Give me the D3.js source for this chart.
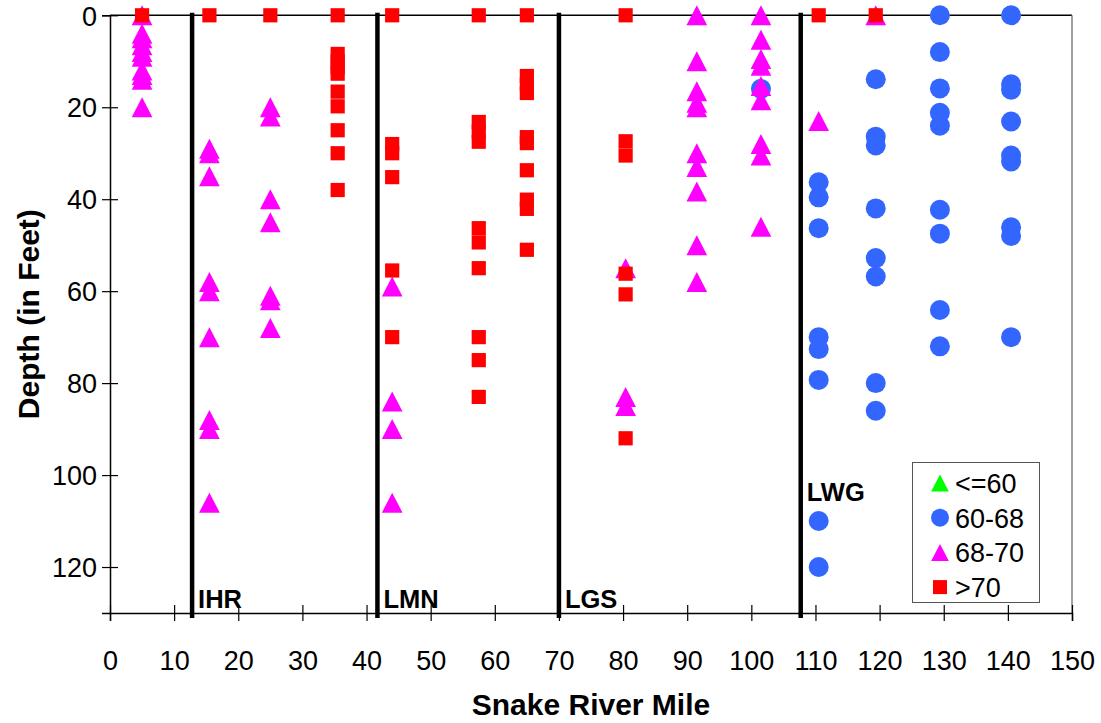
<!DOCTYPE html>
<html>
<head>
<meta charset="utf-8">
<script src="https://cdn.jsdelivr.net/npm/d3@7"></script>
<style>
  body { margin: 0; background: #fff; }
  svg { display: block; }
  text { font-family: "Liberation Sans", Arial, sans-serif; fill: #000; }
</style>
</head>
<body>
<svg id="chart" width="1101" height="723"></svg>
<script>
// Temperature classes (deg F) for the legend
const legendLabels = ["<=60", "60-68", "68-70", ">70"];

// Samples as [river mile, depth in feet], one array per temperature class
const tempUpTo60 = [];

const temp60to68 = [
  [101.5, 16],
  [110.5, 36.3], [110.5, 39.6], [110.5, 46.3], [110.5, 70], [110.5, 72.6], [110.5, 79.3], [110.5, 110], [110.5, 120],
  [119.4, 13.9], [119.4, 26.4], [119.4, 28.3], [119.4, 42], [119.4, 52.8], [119.4, 56.8], [119.4, 80], [119.4, 86],
  [129.4, 0], [129.4, 8], [129.4, 15.9], [129.4, 21.2], [129.4, 24], [129.4, 42.3], [129.4, 47.5], [129.4, 64.1], [129.4, 72],
  [140.5, 0], [140.5, 15], [140.5, 16.2], [140.5, 23.1], [140.5, 30.5], [140.5, 31.8], [140.5, 46.1], [140.5, 48], [140.5, 70]
];

const temp68to70 = [
  [5, 0], [5, 4], [5, 5], [5, 6.5], [5, 8], [5, 9], [5, 12], [5, 13], [5, 14], [5, 20],
  [15.5, 29], [15.5, 30], [15.5, 35], [15.5, 58], [15.5, 60], [15.5, 70], [15.5, 88], [15.5, 90], [15.5, 106],
  [25, 20], [25, 22], [25, 40], [25, 45], [25, 61], [25, 62], [25, 68],
  [44, 59], [44, 84], [44, 90], [44, 106],
  [80.4, 55], [80.4, 83], [80.4, 85],
  [91.5, 0], [91.5, 10], [91.5, 16.5], [91.5, 19], [91.5, 20], [91.5, 30], [91.5, 33], [91.5, 38.3], [91.5, 50], [91.5, 58],
  [101.5, 0], [101.5, 5.3], [101.5, 9.5], [101.5, 11], [101.5, 15.4], [101.5, 18.5], [101.5, 28], [101.5, 30.5], [101.5, 46],
  [110.5, 23],
  [119.4, 0]
];

const tempOver70 = [
  [5, 0], [15.5, 0], [25, 0],
  [35.5, 0], [35.5, 8.4], [35.5, 10], [35.5, 11.3], [35.5, 12.7], [35.5, 16.6], [35.5, 19.8], [35.5, 25], [35.5, 30], [35.5, 38],
  [44, 0], [44, 28], [44, 30], [44, 35.2], [44, 55.5], [44, 70],
  [57.5, 0], [57.5, 23.2], [57.5, 25.3], [57.5, 27.5], [57.5, 46.3], [57.5, 49.4], [57.5, 55], [57.5, 70], [57.5, 75], [57.5, 83],
  [65, 0], [65, 13.2], [65, 15], [65, 16.9], [65, 26.5], [65, 27.8], [65, 33.7], [65, 40.1], [65, 42.1], [65, 51],
  [80.4, 0], [80.4, 27.4], [80.4, 30.5], [80.4, 56.2], [80.4, 60.7], [80.4, 92],
  [110.5, 0], [119.4, 0]
];

// Dams along the river
const damNames = ["IHR", "LMN", "LGS", "LWG"];
const damMiles = [12.8, 41.7, 70, 107.7];

const xTicks = d3.range(0, 151, 10);
const yTicks = [0, 20, 40, 60, 80, 100, 120];

const svg = d3.select("#chart");
svg.append("rect").attr("width", 1101).attr("height", 723).attr("fill", "#fff");

const x = d3.scaleLinear().domain([0, 150]).range([110, 1072]);
const y = d3.scaleLinear().domain([0, 130]).range([15.3, 613]);

// Plot frame: top edge and right edge
svg.append("line").attr("x1", x(0)).attr("x2", x(150)).attr("y1", y(0)).attr("y2", y(0))
  .attr("stroke", "#000").attr("stroke-width", 1.5);
svg.append("line").attr("x1", x(150)).attr("x2", x(150)).attr("y1", y(0)).attr("y2", y(130))
  .attr("stroke", "#808080").attr("stroke-width", 1.5);

// X axis
const gx = svg.append("g").attr("transform", `translate(0,${y(130)})`)
  .call(d3.axisBottom(x).tickValues(xTicks).tickSizeOuter(0).tickSize(8).tickFormat(d3.format("d")));
gx.select(".domain").attr("stroke", "#000").attr("stroke-width", 1.5);
gx.selectAll(".tick line").attr("y1", -8).attr("y2", 8).attr("stroke", "#000").attr("stroke-width", 1.2);
gx.selectAll(".tick text").attr("y", 57).attr("dy", 0).attr("font-size", 27)
  .style("font-family", "'Liberation Sans', Arial, sans-serif").attr("fill", "#000");

// Y axis
const gy = svg.append("g").attr("transform", `translate(${x(0)},0)`)
  .call(d3.axisLeft(y).tickValues(yTicks).tickSizeOuter(0).tickSize(8));
gy.select(".domain").attr("stroke", "#000").attr("stroke-width", 1.5);
gy.selectAll(".tick line").attr("x1", -8).attr("x2", 8).attr("stroke", "#000").attr("stroke-width", 1.2);
gy.selectAll(".tick text").attr("x", -13).attr("dy", "0.36em").attr("font-size", 27)
  .style("font-family", "'Liberation Sans', Arial, sans-serif").attr("fill", "#000");

// Axis titles
svg.append("text").attr("x", (x(0) + x(150)) / 2).attr("y", 715)
  .attr("text-anchor", "middle").attr("font-size", 30).attr("font-weight", "bold")
  .text("Snake River Mile");
svg.append("text").attr("transform", `translate(39,${(y(0) + y(130)) / 2}) rotate(-90)`)
  .attr("text-anchor", "middle").attr("font-size", 30).attr("font-weight", "bold")
  .text("Depth (in Feet)");

// Dam locations
const dams = damNames.map((name, i) => ({ name, mile: damMiles[i] }));
svg.append("g").selectAll("line").data(dams).join("line")
  .attr("x1", d => x(d.mile)).attr("x2", d => x(d.mile))
  .attr("y1", y(0) - 2.5).attr("y2", y(130) + 5)
  .attr("stroke", "#000").attr("stroke-width", 4.5);
svg.append("g").selectAll("text").data(dams).join("text")
  .attr("x", d => x(d.mile) + 6)
  .attr("y", d => d.name === "LWG" ? 501 : 608)
  .attr("font-size", 25.5).attr("font-weight", "bold")
  .text(d => d.name);

// Marker shapes
const triPath = (w, h) => `M0,${-h / 2}L${w / 2},${h / 2}L${-w / 2},${h / 2}Z`;

const marks = svg.append("g");
// Drawn in series order so later classes sit on top
marks.selectAll("path.up60").data(tempUpTo60).join("path").attr("class", "up60")
  .attr("d", triPath(20.7, 20)).attr("fill", "#00FF00")
  .attr("transform", d => `translate(${x(d[0])},${y(d[1])})`);
marks.selectAll("circle.c6068").data(temp60to68).join("circle").attr("class", "c6068")
  .attr("cx", d => x(d[0])).attr("cy", d => y(d[1])).attr("r", 10)
  .attr("fill", "#3366FF");
marks.selectAll("path.t6870").data(temp68to70).join("path").attr("class", "t6870")
  .attr("d", triPath(20.7, 20)).attr("fill", "#FF00FF")
  .attr("transform", d => `translate(${x(d[0])},${y(d[1])})`);
marks.selectAll("rect.s70").data(tempOver70).join("rect").attr("class", "s70")
  .attr("x", d => x(d[0]) - 7.1).attr("y", d => y(d[1]) - 7.1)
  .attr("width", 14.2).attr("height", 14.2)
  .attr("fill", "#FF0000");

// Legend
const legend = svg.append("g");
legend.append("rect").attr("x", 912.5).attr("y", 462.5).attr("width", 127).attr("height", 140)
  .attr("fill", "#fff").attr("stroke", "#555").attr("stroke-width", 1);
const legendColors = ["#00FF00", "#3366FF", "#FF00FF", "#FF0000"];
const legendShapes = ["tri", "circle", "tri", "square"];
const ly = i => 483 + i * 34.7;
legendLabels.forEach((label, i) => {
  const g = legend.append("g").attr("transform", `translate(940,${ly(i)})`);
  if (legendShapes[i] === "tri") {
    g.append("path").attr("d", triPath(17.7, 17)).attr("fill", legendColors[i]);
  } else if (legendShapes[i] === "circle") {
    g.append("circle").attr("r", 9).attr("fill", legendColors[i]);
  } else {
    g.append("rect").attr("x", -7).attr("y", -7).attr("width", 14).attr("height", 14).attr("fill", legendColors[i]);
  }
  legend.append("text").attr("x", 955).attr("y", ly(i) + 10)
    .attr("font-size", 27).text(label);
});
</script>
</body>
</html>
